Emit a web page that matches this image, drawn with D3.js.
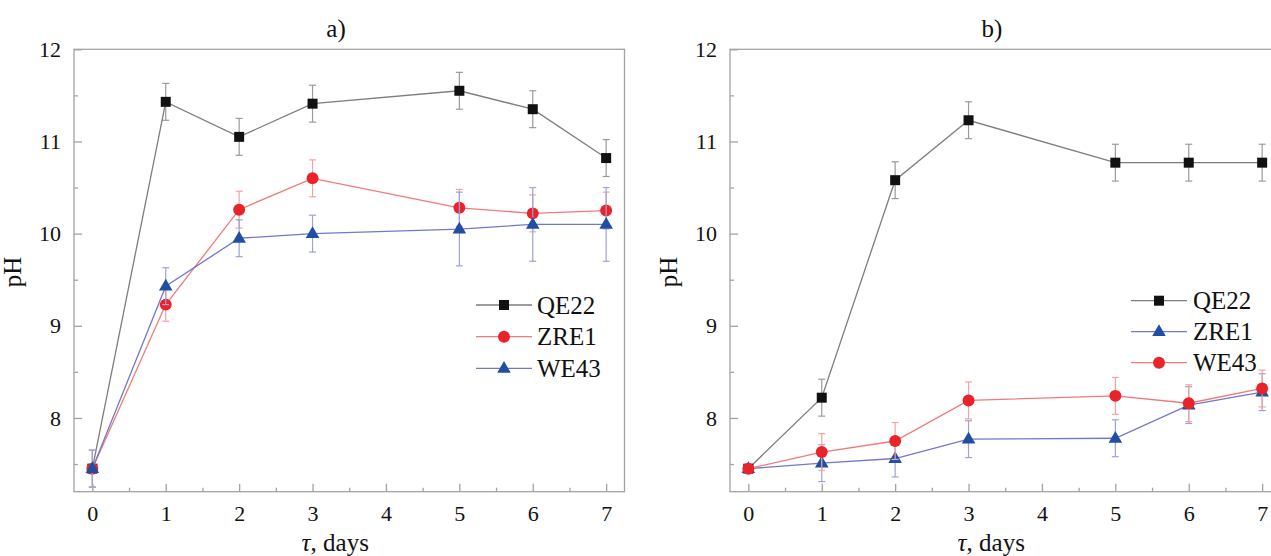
<!DOCTYPE html>
<html><head><meta charset="utf-8">
<script src="https://cdn.jsdelivr.net/npm/d3@7"></script>
<style>
html,body{margin:0;padding:0;background:#fff;}
svg text{font-family:"Liberation Serif","Times New Roman",Times,"DejaVu Serif",serif !important;fill:#111;}
</style></head>
<body><svg id="chart" width="1271" height="556"></svg>
<script>
const days = [0, 1, 2, 3, 5, 6, 7];
const xTicks = [0, 1, 2, 3, 4, 5, 6, 7];
const yTicks = [8, 9, 10, 11, 12];
const panelTitles = ["a)", "b)"];

// panel a
const aQE22 = [7.45, 11.43, 11.05, 11.41, 11.55, 11.35, 10.82];
const aQE22err = [0.2, 0.2, 0.2, 0.2, 0.2, 0.2, 0.2];
const aZRE1 = [7.45, 9.23, 10.26, 10.60, 10.28, 10.22, 10.25];
const aZRE1err = [0.2, 0.18, 0.2, 0.2, 0.2, 0.2, 0.2];
const aWE43 = [7.45, 9.43, 9.95, 10.0, 10.05, 10.1, 10.1];
const aWE43err = [0.2, 0.2, 0.2, 0.2, 0.4, 0.4, 0.4];

// panel b
const bQE22 = [7.45, 8.22, 10.58, 11.23, 10.77, 10.77, 10.77];
const bQE22err = [0.04, 0.2, 0.2, 0.2, 0.2, 0.2, 0.2];
const bZRE1 = [7.45, 7.51, 7.56, 7.77, 7.78, 8.14, 8.28];
const bZRE1err = [0.05, 0.2, 0.2, 0.2, 0.2, 0.2, 0.2];
const bWE43 = [7.45, 7.63, 7.75, 8.19, 8.24, 8.16, 8.32];
const bWE43err = [0.05, 0.2, 0.2, 0.2, 0.2, 0.2, 0.2];

const FONT = '"Liberation Serif", "Times New Roman", Times, "DejaVu Serif", serif';
const STY = {
  black: {marker: "square", fill: "#111", line: "#7d7d7d", err: "#9a9a9a"},
  red:   {marker: "circle", fill: "#e8232a", line: "#ef7a7a", err: "#f2a3a3"},
  blue:  {marker: "triangle", fill: "#1f4ea3", line: "#7478c8", err: "#9ea2d8"}
};

const panels = [
  {title: panelTitles[0], left: 74, right: 624.5, titleX: 336,
   legend: {x: 504, y: 305, dy: 31.7, lineHalf: 28, textX: 537},
   series: [
     {name: "QE22", vals: aQE22, err: aQE22err, s: STY.black},
     {name: "ZRE1", vals: aZRE1, err: aZRE1err, s: STY.red},
     {name: "WE43", vals: aWE43, err: aWE43err, s: STY.blue}
   ]},
  {title: panelTitles[1], left: 730, right: 1280.5, titleX: 992,
   legend: {x: 1159, y: 300.7, dy: 31, lineHalf: 28, textX: 1193},
   series: [
     {name: "QE22", vals: bQE22, err: bQE22err, s: STY.black},
     {name: "ZRE1", vals: bZRE1, err: bZRE1err, s: STY.blue},
     {name: "WE43", vals: bWE43, err: bWE43err, s: STY.red}
   ]}
];

const svg = d3.select("#chart");
const TOP = 49.3, BOTTOM = 491.7;
const FRAME = "#a3a3a3";

function marker(g, type, color, x, y) {
  let sym, size;
  if (type === "square") { sym = d3.symbolSquare; size = 100; }
  else if (type === "circle") { sym = d3.symbolCircle; size = 112; }
  else { sym = d3.symbolTriangle; size = 80; }
  g.append("path").attr("d", d3.symbol().type(sym).size(size)())
    .attr("transform", `translate(${x},${y + (type === "triangle" ? 0.5 : 0)})`)
    .attr("fill", color);
}

panels.forEach(p => {
  const x = d3.scaleLinear().domain([-0.25, 7.25]).range([p.left, p.right]);
  const y = d3.scaleLinear().domain([7.2, 12]).range([BOTTOM, TOP]);
  const g = svg.append("g").attr("font-family", FONT);

  g.append("rect").attr("x", p.left).attr("y", TOP)
    .attr("width", p.right - p.left).attr("height", BOTTOM - TOP)
    .attr("fill", "none").attr("stroke", FRAME).attr("stroke-width", 1.3);

  const xMinor = d3.range(0.5, 7.01, 1);
  const yMinor = d3.range(7.5, 12, 1);
  const xAxis = d3.axisBottom(x).tickValues(xTicks).tickSize(-8).tickPadding(14).tickFormat(d3.format("d"));
  const xAxisMinor = d3.axisBottom(x).tickValues(xMinor).tickSize(-4).tickFormat("");
  const yAxis = d3.axisLeft(y).tickValues(yTicks).tickSize(-8).tickPadding(13).tickFormat(d3.format("d"));
  const yAxisMinor = d3.axisLeft(y).tickValues(yMinor).tickSize(-4).tickFormat("");

  [[xAxis, `translate(0,${BOTTOM})`], [xAxisMinor, `translate(0,${BOTTOM})`],
   [yAxis, `translate(${p.left},0)`], [yAxisMinor, `translate(${p.left},0)`]].forEach(([ax, tr]) => {
    const a = g.append("g").attr("transform", tr).call(ax).attr("font-family", FONT);
    a.select(".domain").remove();
    a.selectAll(".tick line").attr("stroke", FRAME).attr("stroke-width", 1.3);
    a.selectAll(".tick text").attr("font-size", 22).attr("fill", "#111")
      .attr("font-family", FONT);
  });

  g.append("text").attr("x", p.titleX).attr("y", 37).attr("text-anchor", "middle")
    .attr("font-family", FONT).attr("font-size", 25).text(p.title);
  const xl = g.append("text").attr("x", (p.left + p.right) / 2 - 14).attr("y", 551)
    .attr("text-anchor", "middle").attr("font-family", FONT).attr("font-size", 25);
  xl.append("tspan").attr("font-style", "italic").text("τ");
  xl.append("tspan").text(", days");
  g.append("text").attr("transform", `translate(${p.left - 53},272) rotate(-90)`)
    .attr("text-anchor", "middle").attr("font-family", FONT).attr("font-size", 25).text("pH");

  const line = d3.line().x(d => x(d[0])).y(d => y(d[1]));
  p.series.forEach(sr => {
    const pts = days.map((d, i) => [d, sr.vals[i], sr.err[i]]);
    const sg = g.append("g");
    pts.forEach(d => {
      const cx = x(d[0]);
      const y1 = y(d[1] + d[2]), y2 = y(d[1] - d[2]);
      sg.append("line").attr("x1", cx).attr("x2", cx).attr("y1", y1).attr("y2", y2)
        .attr("stroke", sr.s.err).attr("stroke-width", 1.2);
      [y1, y2].forEach(yy => sg.append("line").attr("x1", cx - 3.5).attr("x2", cx + 3.5)
        .attr("y1", yy).attr("y2", yy).attr("stroke", sr.s.err).attr("stroke-width", 1.2));
    });
    sg.append("path").attr("d", line(pts)).attr("fill", "none")
      .attr("stroke", sr.s.line).attr("stroke-width", 1.3);
    pts.forEach(d => marker(sg, sr.s.marker, sr.s.fill, x(d[0]), y(d[1])));
  });

  const L = p.legend;
  p.series.forEach((sr, i) => {
    const ly = L.y + i * L.dy;
    g.append("line").attr("x1", L.x - L.lineHalf).attr("x2", L.x + L.lineHalf)
      .attr("y1", ly).attr("y2", ly).attr("stroke", sr.s.line).attr("stroke-width", 1.3);
    marker(g, sr.s.marker, sr.s.fill, L.x, ly);
    g.append("text").attr("x", L.textX).attr("y", ly + 8.5).attr("font-family", FONT)
      .attr("font-size", 25).text(sr.name);
  });
});
</script></body></html>
